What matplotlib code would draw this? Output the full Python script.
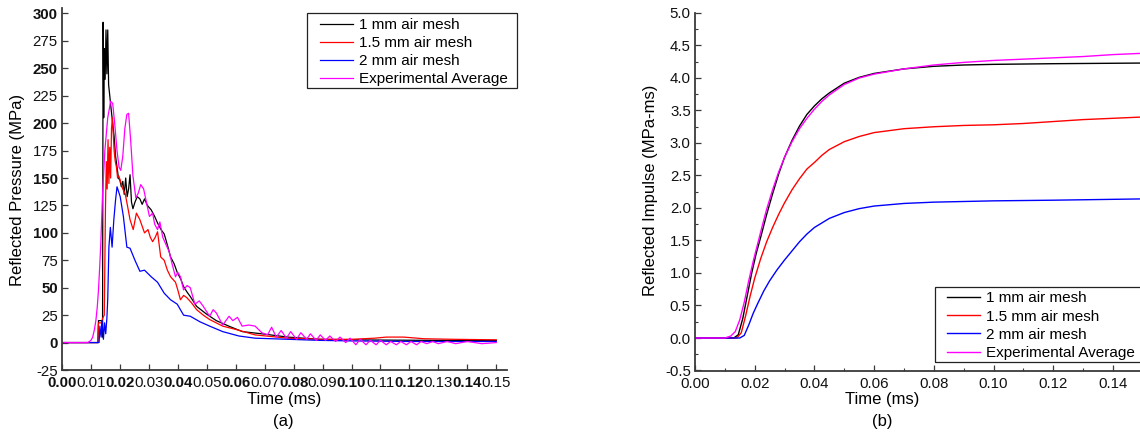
import matplotlib
matplotlib.use("Agg")
import matplotlib.pyplot as plt
from matplotlib.patches import Rectangle
from matplotlib.ticker import MultipleLocator

plt.rcParams['font.family'] = ['Liberation Sans', 'DejaVu Sans']

# ---------------- data: (a) reflected pressure ----------------
labels = ["1 mm air mesh", "1.5 mm air mesh", "2 mm air mesh", "Experimental Average"]
colors = ["black", "red", "blue", "magenta"]

p1_t = [0, 0.0124, 0.0126, 0.0137, 0.0140, 0.0142, 0.0144, 0.0146, 0.0149, 0.0152,
        0.0155, 0.0158, 0.0161, 0.0165, 0.0170, 0.0175, 0.0180, 0.0185, 0.0190, 0.0195,
        0.0200, 0.0205, 0.0210, 0.0215, 0.0220, 0.0225, 0.0230, 0.0235, 0.0240, 0.0245,
        0.0252, 0.0260, 0.0269, 0.0277, 0.0285, 0.0295, 0.0308, 0.0320, 0.0330, 0.0342,
        0.0353, 0.0365, 0.0375, 0.0387, 0.0398, 0.0410, 0.0420, 0.0432, 0.0443, 0.0465,
        0.0499, 0.0533, 0.0576, 0.0623, 0.0690, 0.0780, 0.0890, 0.1000, 0.1150, 0.1300,
        0.1500]
p1_v = [0, 0, 20, 20, 5, 292, 205, 268, 240, 285,
        245, 285, 235, 225, 212, 200, 188, 170, 160, 150,
        148, 142, 147, 135, 150, 133, 140, 153, 128, 122,
        128, 133, 131, 126, 131, 125, 121, 115, 109, 103,
        99, 88, 78, 72, 64, 58, 51, 46, 42, 33,
        26, 20, 15, 10, 8, 5, 3, 2.5, 2.2, 2,
        2]

p15_t = [0, 0.0124, 0.0126, 0.0137, 0.0140, 0.0146, 0.0150, 0.0153, 0.0156, 0.0159,
         0.0162, 0.0165, 0.0168, 0.0171, 0.0174, 0.0177, 0.0180, 0.0184, 0.0188, 0.0192,
         0.0196, 0.0201, 0.0210, 0.0218, 0.0226, 0.0235, 0.0246, 0.0257, 0.0269, 0.0277,
         0.0285, 0.0297, 0.0305, 0.0313, 0.0322, 0.0330, 0.0341, 0.0353, 0.0364, 0.0375,
         0.0392, 0.0400, 0.0409, 0.0420, 0.0431, 0.0448, 0.0465, 0.0488, 0.0510, 0.0555,
         0.0600, 0.0667, 0.0780, 0.0892, 0.1000, 0.1080, 0.1120, 0.1180, 0.1250, 0.1350,
         0.1500]
p15_v = [0, 0, 18, 18, 22, 25, 120, 165, 140, 185,
         145, 178, 150, 195, 205, 190, 175, 165, 160, 150,
         152, 148, 140, 136, 125, 112, 103, 118, 112, 106,
         100, 103, 96, 92, 96, 101, 78, 75, 66, 60,
         55, 48, 39, 43, 41, 36, 30, 25, 21, 15,
         12, 7, 4, 3, 3, 4, 5, 5, 3.5, 3,
         2.5]

p2_t = [0, 0.0128, 0.0131, 0.0135, 0.0139, 0.0143, 0.0147, 0.0151, 0.0155, 0.0158,
        0.0162, 0.0167, 0.0173, 0.0179, 0.0185, 0.0190, 0.0195, 0.0201, 0.0212, 0.0224,
        0.0235, 0.0252, 0.0269, 0.0285, 0.0308, 0.0330, 0.0353, 0.0375, 0.0398, 0.0420,
        0.0443, 0.0476, 0.0510, 0.0555, 0.0611, 0.0667, 0.0780, 0.0892, 0.1000, 0.1200,
        0.1500]
p2_v = [0, 0, 15, 5, 20, 3, 18, 8, 22, 40,
        87, 105, 87, 112, 130, 142, 138, 133, 115, 87,
        86, 75, 65, 66, 60, 55, 45, 39, 35, 25,
        24, 19, 15, 10, 6, 4, 3, 2, 1.5, 1,
        1]

pex_t = [0, 0.0089, 0.0100, 0.0106, 0.0112, 0.0117, 0.0122, 0.0126, 0.0130, 0.0134,
         0.0140, 0.0148, 0.0158, 0.0168, 0.0175, 0.0182, 0.0190, 0.0197, 0.0203, 0.0210,
         0.0217, 0.0224, 0.0230, 0.0237, 0.0245, 0.0255, 0.0263, 0.0272, 0.0282, 0.0290,
         0.0302, 0.0313, 0.0320, 0.0330, 0.0338, 0.0348, 0.0358, 0.0370, 0.0380, 0.0392,
         0.0400, 0.0409, 0.0420, 0.0432, 0.0443, 0.0459, 0.0474, 0.0488, 0.0500, 0.0510,
         0.0522, 0.0533, 0.0555, 0.0577, 0.0590, 0.0606, 0.0622, 0.0645, 0.0667, 0.0690,
         0.0710, 0.0724, 0.0740, 0.0757, 0.0775, 0.0790, 0.0810, 0.0825, 0.0845, 0.0858,
         0.0878, 0.0892, 0.0910, 0.0925, 0.0945, 0.0960, 0.0980, 0.0995, 0.1015, 0.1030,
         0.1050, 0.1065, 0.1085, 0.1100, 0.1120, 0.1135, 0.1155, 0.1170, 0.1190, 0.1205,
         0.1225, 0.1240, 0.1260, 0.1280, 0.1300, 0.1330, 0.1360, 0.1400, 0.1450, 0.1500]
pex_v = [0, 0, 2, 5, 12, 20, 33, 48, 68, 90,
         135, 175, 205, 220, 218, 200, 175, 160, 157, 170,
         195, 208, 209, 185, 152, 132, 136, 144, 140, 130,
         115, 118, 108, 103, 110, 96, 90, 83, 72, 60,
         64, 60, 48, 52, 50, 35, 38, 33, 28, 24,
         30, 27, 16, 24, 20, 23, 15, 16, 15, 9,
         7, 14, 5, 11, 4, 10, 3, 9, 3, 8,
         2, 7, 2, 6, 1, 5, 0, 4, -2, 3,
         -2, 2, -2, 2, -2, 1, -2, 1, -2, 1,
         -2, 1, -1, 1, -1, 1, -1, 1, -1, 0]

# ---------------- data: (b) reflected impulse ----------------
i1_t = [0, 0.0130, 0.0145, 0.0160, 0.0175, 0.0190, 0.0205, 0.0220, 0.0240, 0.0260,
        0.0280, 0.0300, 0.0325, 0.0350, 0.0375, 0.0400, 0.0425, 0.0450, 0.0500, 0.0550,
        0.0600, 0.0700, 0.0800, 0.0900, 0.1000, 0.1200, 0.1500]
i1_v = [0, 0, 0.05, 0.30, 0.65, 1.00, 1.30, 1.55, 1.90, 2.22,
        2.52, 2.78, 3.04, 3.26, 3.44, 3.57, 3.68, 3.77, 3.92, 4.01,
        4.07, 4.14, 4.18, 4.20, 4.21, 4.22, 4.23]

i15_t = [0, 0.0140, 0.0155, 0.0170, 0.0185, 0.0200, 0.0220, 0.0240, 0.0260, 0.0280,
         0.0300, 0.0325, 0.0350, 0.0375, 0.0400, 0.0425, 0.0450, 0.0500, 0.0550, 0.0600,
         0.0700, 0.0800, 0.0900, 0.1000, 0.1100, 0.1200, 0.1300, 0.1400, 0.1500]
i15_v = [0, 0, 0.08, 0.35, 0.65, 0.92, 1.22, 1.48, 1.70, 1.90,
         2.08, 2.28, 2.45, 2.60, 2.70, 2.81, 2.90, 3.02, 3.10, 3.16,
         3.22, 3.25, 3.27, 3.28, 3.30, 3.33, 3.36, 3.38, 3.40]

i2_t = [0, 0.0150, 0.0165, 0.0180, 0.0195, 0.0210, 0.0230, 0.0250, 0.0275, 0.0300,
        0.0325, 0.0350, 0.0375, 0.0400, 0.0425, 0.0450, 0.0500, 0.0550, 0.0600, 0.0700,
        0.0800, 0.0900, 0.1000, 0.1200, 0.1500]
i2_v = [0, 0, 0.04, 0.20, 0.38, 0.53, 0.72, 0.88, 1.05, 1.20,
        1.34, 1.48, 1.60, 1.70, 1.77, 1.84, 1.93, 1.99, 2.03, 2.07,
        2.09, 2.10, 2.11, 2.12, 2.14]

iex_t = [0, 0.0100, 0.0120, 0.0135, 0.0150, 0.0165, 0.0180, 0.0195, 0.0210, 0.0225,
         0.0240, 0.0260, 0.0280, 0.0300, 0.0325, 0.0350, 0.0375, 0.0400, 0.0425, 0.0450,
         0.0500, 0.0550, 0.0600, 0.0700, 0.0800, 0.0900, 0.1000, 0.1100, 0.1200, 0.1300,
         0.1400, 0.1500]
iex_v = [0, 0, 0.03, 0.10, 0.28, 0.55, 0.88, 1.18, 1.45, 1.72,
         1.98, 2.28, 2.55, 2.78, 3.02, 3.22, 3.38, 3.52, 3.64, 3.74,
         3.90, 4.00, 4.06, 4.14, 4.20, 4.24, 4.27, 4.29, 4.31, 4.33,
         4.36, 4.38]

left_xticks = [round(0.01 * k, 2) for k in range(16)]
left_yticks = list(range(-25, 301, 25))
right_xticks = [0.00, 0.02, 0.04, 0.06, 0.08, 0.10, 0.12, 0.14]
right_yticks = [-0.5, 0.0, 0.5, 1.0, 1.5, 2.0, 2.5, 3.0, 3.5, 4.0, 4.5, 5.0]

# ---------------- figure ----------------
W, H = 1140, 444
fig = plt.figure(figsize=(W / 100, H / 100), dpi=100)

def fx(px):
    return px / W

def fy(py):
    return 1 - py / H

spine_col = "#3a3a3a"
TICK_FS = 10.8
LAB_FS = 12
LEG_FS = 11

ax1 = fig.add_axes([fx(62), fy(370), fx(445), 362 / H])
ax2 = fig.add_axes([fx(695), fy(370.5), fx(447.75), 357.5 / H])

for ax in (ax1, ax2):
    for s in ("top", "right"):
        ax.spines[s].set_visible(False)
    for s in ("left", "bottom"):
        ax.spines[s].set_color(spine_col)
        ax.spines[s].set_linewidth(1.3)
    ax.tick_params(direction="in", length=4, width=0.9, color=spine_col,
                   labelsize=TICK_FS, pad=3, labelcolor="#111111")
    ax.tick_params(axis="x", pad=4.5)

# (a)
lw = 0.9
ax1.plot(p1_t, p1_v, color=colors[0], lw=lw, label=labels[0])
ax1.plot(p15_t, p15_v, color=colors[1], lw=lw, label=labels[1])
ax1.plot(p2_t, p2_v, color=colors[2], lw=lw, label=labels[2])
ax1.plot(pex_t, pex_v, color=colors[3], lw=lw, label=labels[3])
ax1.set_xlim(0, 0.1537)
ax1.set_ylim(-25, 305)
ax1.set_xticks(left_xticks)
ax1.set_xticklabels([f"{v:.2f}" for v in left_xticks])
ax1.set_yticks(left_yticks)
ax1.set_yticklabels([str(v) for v in left_yticks])
for i, lab in enumerate(ax1.get_xticklabels()):
    lab.set_fontweight("bold" if i % 2 == 0 else "normal")
for v, lab in zip(left_yticks, ax1.get_yticklabels()):
    lab.set_fontweight("bold" if v % 50 == 0 else "normal")

# (b)
lw2 = 1.0
ax2.plot(i1_t, i1_v, color=colors[0], lw=lw2, label=labels[0])
ax2.plot(i15_t, i15_v, color=colors[1], lw=lw2, label=labels[1])
ax2.plot(i2_t, i2_v, color=colors[2], lw=lw2, label=labels[2])
ax2.plot(iex_t, iex_v, color=colors[3], lw=lw2, label=labels[3])
ax2.set_xlim(0, 0.15)
ax2.set_ylim(-0.5, 5.0)
ax2.set_xticks(right_xticks)
ax2.set_xticklabels([f"{v:.2f}" for v in right_xticks])
ax2.set_yticks(right_yticks)
ax2.set_yticklabels([f"{v:.1f}" for v in right_yticks])
ax2.xaxis.set_minor_locator(MultipleLocator(0.01))
ax2.yaxis.set_minor_locator(MultipleLocator(0.25))
ax2.tick_params(which="minor", direction="in", length=2.5, width=0.8, color=spine_col)

# axis labels & captions as figure text
fig.text(fx(18), fy(190), "Reflected Pressure (MPa)", rotation=90, ha="center", va="center", fontsize=LAB_FS)
fig.text(fx(650), fy(190), "Reflected Impulse (MPa-ms)", rotation=90, ha="center", va="center", fontsize=LAB_FS)
fig.text(fx(284), fy(399), "Time (ms)", ha="center", va="center", fontsize=LAB_FS)
fig.text(fx(882), fy(399), "Time (ms)", ha="center", va="center", fontsize=LAB_FS)
fig.text(fx(283), fy(421), "(a)", ha="center", va="center", fontsize=LAB_FS)
fig.text(fx(882), fy(421), "(b)", ha="center", va="center", fontsize=LAB_FS)

# legends with manual frames
def add_legend(ax, handle_x, first_row_y, box):
    h, l = ax.get_legend_handles_labels()
    ax.legend(h, l, loc="upper left", bbox_to_anchor=(fx(handle_x), fy(first_row_y - 7)),
              bbox_transform=fig.transFigure, frameon=False, fontsize=LEG_FS,
              borderpad=0, borderaxespad=0, handlelength=2.15, handletextpad=0.4,
              labelspacing=0.27)
    x0, y0, x1, y1 = box
    fig.patches.append(Rectangle((fx(x0), fy(y1)), fx(x1 - x0), (y1 - y0) / H,
                                 transform=fig.transFigure, fill=False,
                                 edgecolor="#222222", lw=0.9, zorder=5))

add_legend(ax1, 320, 25, (307, 13, 517, 88))
add_legend(ax2, 947, 298.5, (935, 287, 1146, 362))

fig.savefig("out.png", dpi=100)
